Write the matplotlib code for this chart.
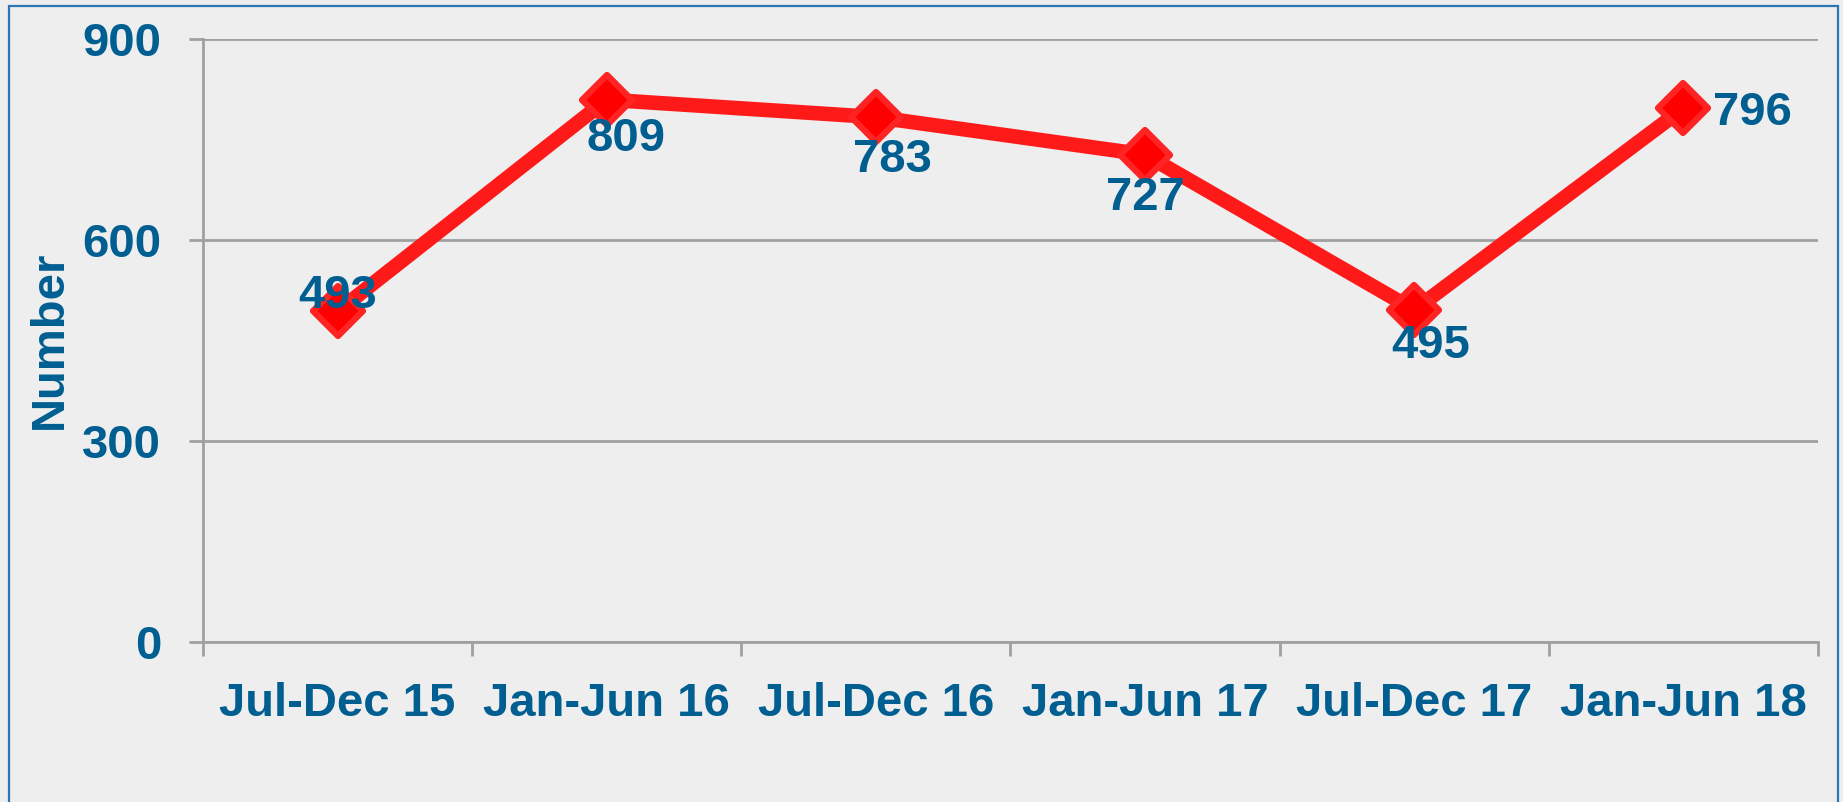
import matplotlib
matplotlib.use("Agg")
import matplotlib.pyplot as plt
from matplotlib.patches import Rectangle
from matplotlib.markers import MarkerStyle

categories = ["Jul-Dec 15", "Jan-Jun 16", "Jul-Dec 16", "Jan-Jun 17", "Jul-Dec 17", "Jan-Jun 18"]
values = [493, 809, 783, 727, 495, 796]
yticks = [0, 300, 600, 900]
# label offsets in points (dx, dy)
label_offsets = [(0, 15), (14, -25), (12, -27), (0, -28), (12, -22), (50, 0)]

TEXT = "#005E91"
BG = "#EEEEEE"
GRID = "#A0A0A0"

plt.rcParams['font.family'] = ['Liberation Sans', 'DejaVu Sans']
plt.rcParams['font.weight'] = 'bold'

fig = plt.figure(figsize=(18.43, 8.02), dpi=100, facecolor=BG)
ax = fig.add_axes([203/1843, 1-641.7/802, 1615/1843, 603/802])
ax.set_facecolor(BG)

# outer border
fig.patches.append(Rectangle((8.5/1843, -0.01), (1838-8.5)/1843, 1.01-6/802,
                             transform=fig.transFigure, fill=False,
                             edgecolor="#2E75B6", linewidth=1.6, zorder=0))

x = [i + 0.5 for i in range(len(categories))]
ax.plot(x, values, color="#FF1A1A", linewidth=10.5, solid_joinstyle='round',
        marker=MarkerStyle('D', joinstyle='round'), markersize=25,
        markerfacecolor="#FF0000", markeredgecolor="#FF2424",
        markeredgewidth=4.5, zorder=3, clip_on=False)

for xi, v, (dx, dy) in zip(x, values, label_offsets):
    ax.annotate(str(v), (xi, v), xytext=(dx, dy), textcoords='offset points',
                ha='center', va='center_baseline', fontsize=34, fontweight='bold',
                color=TEXT, zorder=4)

ax.set_xlim(0, len(categories))
ax.set_ylim(0, 900)
ax.set_yticks(yticks)
ax.set_yticklabels([str(t) for t in yticks])
ax.yaxis.grid(True, color=GRID, linewidth=2)
ax.set_axisbelow(True)

ax.set_xticks(range(len(categories) + 1))
ax.set_xticklabels([])
ax.set_xticks(x, minor=True)
ax.set_xticklabels(categories, minor=True)
ax.tick_params(axis='x', which='major', length=10, width=2, color=GRID, direction='out')
ax.tick_params(axis='x', which='minor', length=0, pad=29, labelsize=34, labelcolor=TEXT)
ax.tick_params(axis='y', length=10, width=2, color=GRID, pad=20, labelsize=34, labelcolor=TEXT)

for s in ['top', 'right']:
    ax.spines[s].set_visible(False)
for s in ['left', 'bottom']:
    ax.spines[s].set_color(GRID)
    ax.spines[s].set_linewidth(2)

ax.set_ylabel("Number", fontsize=34, fontweight='bold', color=TEXT)
ax.yaxis.set_label_coords(-0.0815, 0.5)

fig.savefig("out.png", dpi=100, facecolor=BG)
